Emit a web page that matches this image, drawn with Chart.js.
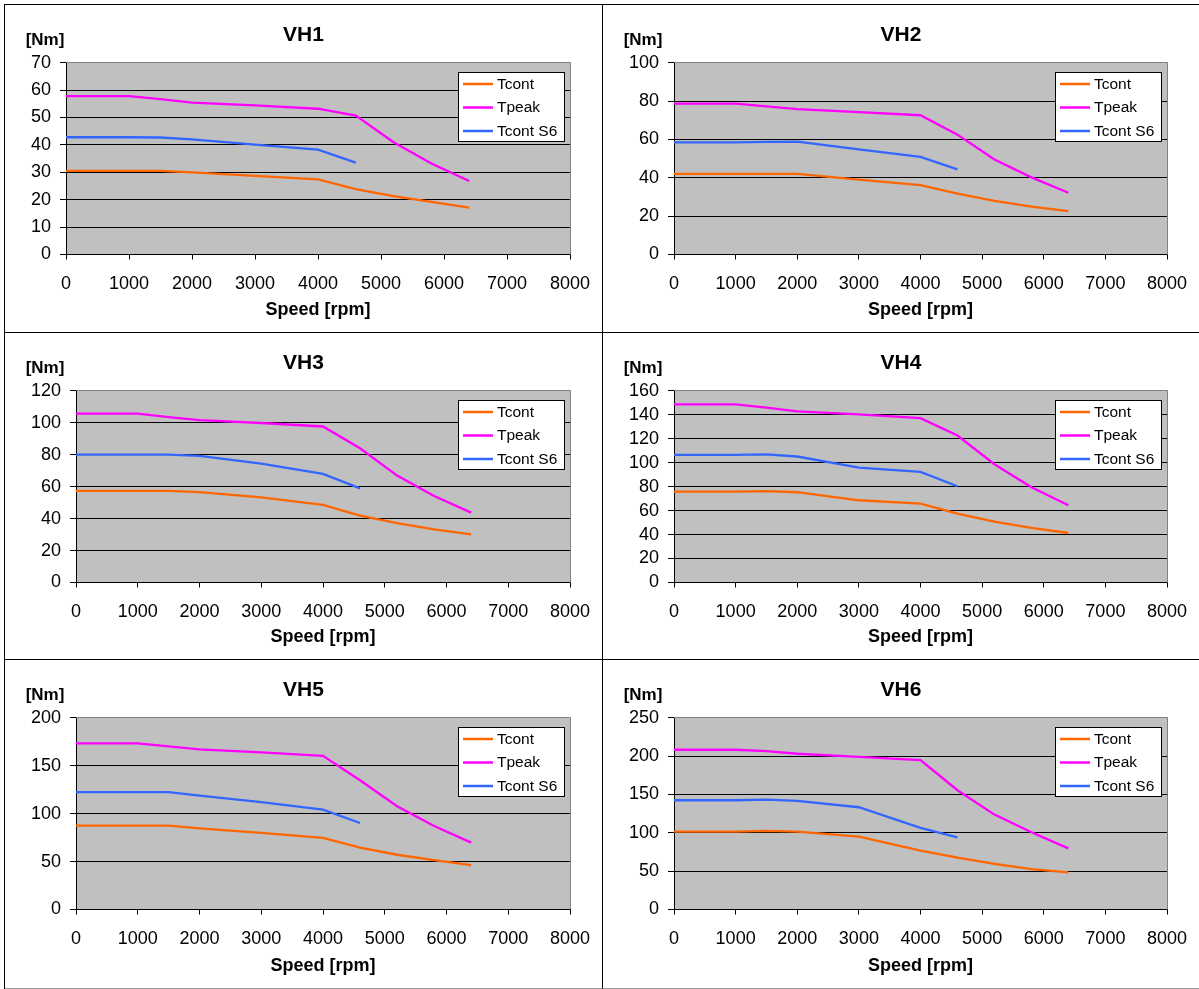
<!DOCTYPE html>
<html>
<head>
<meta charset="utf-8">
<script src="https://cdn.jsdelivr.net/npm/chart.js@4"></script>
<style>
  html, body { margin: 0; padding: 0; background: #fff; }
  #grid {
    position: absolute; left: 4px; top: 4px;
    display: grid;
    grid-template-columns: 598px 596px;
    grid-template-rows: 328px 327px 329px;
    border-left: 1px solid #000; border-top: 1px solid #000;
  }
  .cell { box-sizing: border-box; border-right: 1px solid #000; border-bottom: 1px solid #000; position: relative; }
  .cell.c2 { border-right: none; }
  .cell.r3 { border-bottom-color: #999; }
  .cell canvas { display: block; }
</style>
</head>
<body>
<div id="grid"></div>
<script>
// speed points [rpm]
const speeds = [0, 1000, 1500, 2000, 3000, 4000, 4600, 5200, 5800, 6400];
const speedsS6 = [0, 1000, 1500, 2000, 3000, 4000, 4600];

const seriesNames = ["Tcont", "Tpeak", "Tcont S6"];
const seriesColors = ["#FF6600", "#FF00FF", "#3366FF"];

const titles = ["VH1", "VH2", "VH3", "VH4", "VH5", "VH6"];
const yMax = [70, 100, 120, 160, 200, 250];
const yStep = [10, 20, 20, 20, 50, 50];

// torque [Nm]
const vh1Tcont = [30.5, 30.5, 30.5, 30, 28.7, 27.4, 23.9, 21.3, 19.2, 17.1];
const vh1Tpeak = [57.8, 57.8, 56.7, 55.4, 54.4, 53.2, 50.7, 41, 33.2, 26.8];
const vh1S6 = [42.8, 42.8, 42.7, 42, 40.1, 38.3, 33.5];

const vh2Tcont = [42, 42, 42, 42, 39, 36.2, 31.7, 28, 25, 22.6];
const vh2Tpeak = [78.7, 78.7, 77.2, 75.8, 74.2, 72.6, 62.5, 49.5, 40.2, 32.2];
const vh2S6 = [58.5, 58.5, 58.7, 58.8, 54.8, 50.9, 44.4];

const vh3Tcont = [57.3, 57.3, 57.3, 56.6, 53.3, 48.5, 41.8, 37.2, 33.2, 30.1];
const vh3Tpeak = [105.7, 105.7, 103.5, 101.6, 99.8, 97.6, 84, 66.9, 54.1, 43.7];
const vh3S6 = [80, 80, 80, 79.2, 74.4, 67.9, 58.9];

const vh4Tcont = [75.8, 75.8, 76.3, 75.3, 68.6, 65.8, 57.4, 50.7, 45.5, 41.3];
const vh4Tpeak = [148.6, 148.6, 145.8, 142.7, 140.3, 137.1, 122.6, 98.7, 79.5, 64.4];
const vh4S6 = [106.5, 106.5, 106.8, 105.1, 95.9, 92.3, 80.3];

const vh5Tcont = [87.5, 87.5, 87.5, 84.7, 80, 74.6, 64.5, 57.1, 51.5, 46.3];
const vh5Tpeak = [173.2, 173.2, 170.2, 166.9, 163.8, 160.3, 134.8, 107.7, 87.1, 69.7];
const vh5S6 = [122.3, 122.3, 122.3, 118.8, 112, 104.2, 90.2];

const vh6Tcont = [101.5, 101.5, 102.4, 101.5, 95, 76.7, 67.5, 59.5, 52.5, 48.3];
const vh6Tpeak = [208.2, 208.2, 206.4, 203, 199, 194.7, 155.5, 123.7, 100.6, 79.7];
const vh6S6 = [142.4, 142.4, 143.3, 141.5, 133.3, 106.3, 94.1];

const panels = [
  [vh1Tcont, vh1Tpeak, vh1S6],
  [vh2Tcont, vh2Tpeak, vh2S6],
  [vh3Tcont, vh3Tpeak, vh3S6],
  [vh4Tcont, vh4Tpeak, vh4S6],
  [vh5Tcont, vh5Tpeak, vh5S6],
  [vh6Tcont, vh6Tpeak, vh6S6],
];

const FONT = "'Liberation Sans', Arial, sans-serif";

function toPoints(xs, ys) {
  return ys.map((y, i) => ({ x: xs[i], y: y }));
}

function alignPx(v) {
  return Math.round(v - 0.5) + 0.5;
}

// grey plot background + grey top/right frame
const plotFrame = {
  id: "plotFrame",
  beforeDraw(chart) {
    const a = chart.chartArea, ctx = chart.ctx;
    ctx.save();
    ctx.fillStyle = "#C0C0C0";
    ctx.fillRect(a.left, a.top, a.right - a.left, a.bottom - a.top);
    ctx.restore();
  },
  beforeDatasetsDraw(chart) {
    const a = chart.chartArea, ctx = chart.ctx;
    ctx.save();
    ctx.strokeStyle = "#808080";
    ctx.lineWidth = 1;
    ctx.beginPath();
    ctx.moveTo(a.left, alignPx(a.top));
    ctx.lineTo(alignPx(a.right), alignPx(a.top));
    ctx.lineTo(alignPx(a.right), a.bottom);
    ctx.stroke();
    ctx.restore();
  }
};

// "[Nm]" unit label above the y axis
const unitLabel = {
  id: "unitLabel",
  afterDraw(chart) {
    const ctx = chart.ctx;
    ctx.save();
    ctx.font = "bold 17px " + FONT;
    ctx.fillStyle = "#000";
    ctx.textAlign = "center";
    ctx.textBaseline = "middle";
    ctx.fillText("[Nm]", 40, 35);
    ctx.restore();
  }
};

// boxed legend in the upper right of the plot
const boxLegend = {
  id: "boxLegend",
  afterDraw(chart) {
    const a = chart.chartArea, ctx = chart.ctx;
    const w = 106, h = 69;
    const left = Math.round(a.right - 6 - w) + 0.5;
    const top = Math.round(a.top + 9) + 0.5;
    ctx.save();
    ctx.fillStyle = "#fff";
    ctx.fillRect(left, top, w, h);
    ctx.strokeStyle = "#000";
    ctx.lineWidth = 1;
    ctx.strokeRect(left, top, w, h);
    ctx.font = "15.5px " + FONT;
    ctx.textBaseline = "middle";
    ctx.textAlign = "left";
    chart.data.datasets.forEach((ds, i) => {
      const y = top + 11.5 + i * 23.5;
      ctx.strokeStyle = ds.borderColor;
      ctx.lineWidth = 2.5;
      ctx.beginPath();
      ctx.moveTo(left + 4.5, y);
      ctx.lineTo(left + 34.5, y);
      ctx.stroke();
      ctx.fillStyle = "#000";
      ctx.fillText(ds.label, left + 38.5, y + 0.5);
    });
    ctx.restore();
  }
};

const grid = document.getElementById("grid");

titles.forEach((title, p) => {
  const cell = document.createElement("div");
  cell.className = "cell" + (p % 2 === 1 ? " c2" : "") + (p >= 4 ? " r3" : "");
  grid.appendChild(cell);
  const canvas = document.createElement("canvas");
  cell.appendChild(canvas);
  const w = p % 2 === 0 ? 597 : 596;
  const h = [327, 326, 328][Math.floor(p / 2)];
  canvas.width = w; canvas.height = h;
  canvas.style.width = w + "px"; canvas.style.height = h + "px";

  const vals = panels[p];
  const max = yMax[p];
  const yWidth = String(max).length > 2 ? 71 : 61;

  new Chart(canvas, {
    type: "line",
    data: {
      datasets: vals.map((ys, i) => ({
        label: seriesNames[i],
        data: toPoints(i === 2 ? speedsS6 : speeds, ys),
        borderColor: seriesColors[i],
        backgroundColor: seriesColors[i],
        borderWidth: 2.3,
        pointRadius: 0,
        tension: 0,
        fill: false,
      }))
    },
    options: {
      responsive: false,
      animation: false,
      devicePixelRatio: 1,
      layout: { padding: 0 },
      plugins: {
        legend: { display: false },
        tooltip: { enabled: false },
        title: {
          display: true,
          text: title,
          color: "#000",
          font: { family: FONT, size: 21, weight: "bold", lineHeight: 1.2 },
          padding: { top: 17.4, bottom: 15.1 },
        },
      },
      scales: {
        x: {
          type: "linear",
          min: 0, max: 8000,
          ticks: { stepSize: 1000, color: "#000", padding: 13.4, maxRotation: 0,
                   callback: (v) => String(v),
                   font: { family: FONT, size: 18 } },
          grid: { drawOnChartArea: false, drawTicks: true, tickLength: 5, tickColor: "#000" },
          border: { display: true, color: "#000", width: 1 },
          title: { display: true, text: "Speed [rpm]", color: "#000",
                   font: { family: FONT, size: 18, weight: "bold", lineHeight: 1.2 },
                   padding: { top: 0, bottom: 11.2 } },
          afterFit(scale) {
            scale.height = scale.chart.height - 249.5;
            scale.paddingRight = 32;
          },
        },
        y: {
          min: 0, max: max,
          ticks: { stepSize: yStep[p], color: "#000", padding: 9, autoSkip: false,
                   font: { family: FONT, size: 18 } },
          grid: {
            color: (ctx) => (ctx.tick && ctx.tick.value === max ? "#808080" : "#000"),
            tickLength: 6, tickColor: "#000", lineWidth: 1,
          },
          border: { display: true, color: "#000", width: 1 },
          afterFit(scale) { scale.width = yWidth; },
        },
      },
    },
    plugins: [plotFrame, unitLabel, boxLegend],
  });
});
</script>
</body>
</html>
